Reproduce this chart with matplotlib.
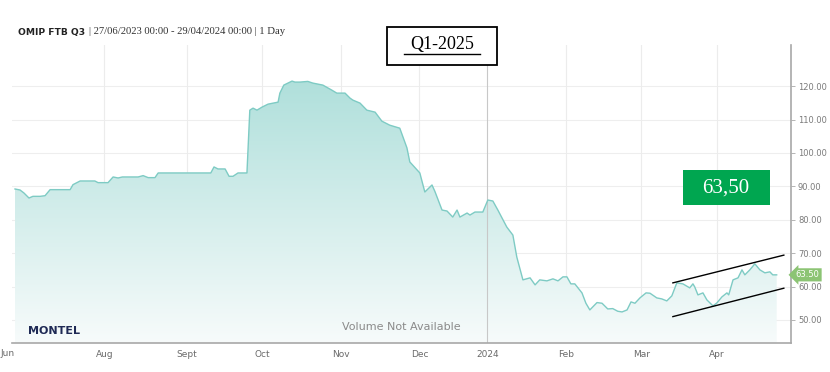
import numpy as np
import matplotlib
matplotlib.use("Agg")
import matplotlib.pyplot as plt
from matplotlib.colors import LinearSegmentedColormap
from matplotlib.patches import Rectangle
from matplotlib.lines import Line2D
import matplotlib.transforms as mtransforms

# trading-day index since 27/06/2023 and price (EUR/MWh)
day = [0, 1.4, 2.5, 3.9, 5, 7, 8.4, 9.8, 15.4, 16.2, 18.2, 22.3, 23.2, 26, 27.4,
       28.8, 30, 34.4, 35.8, 37.2, 39.1, 40, 54.7, 55.6, 56.7, 58.7, 59.8, 60.9,
       62.3, 64.8, 65.6, 66.5, 67.6, 69, 70.7, 73.5, 74, 75.1, 77.4, 78.2, 79.6,
       81.8, 83.2, 86, 88.5, 89.9, 92.2, 93.6, 94.4, 96.4, 98.3, 100.6, 102.5,
       104.7, 107.5, 109.5, 110.3, 113.1, 114.5, 116.5, 117.3, 119.3, 120.7,
       122.3, 123.5, 124.3, 126.3, 127.1, 128.5, 130.7, 132.1, 133.5, 134.9,
       137.4, 139.1, 140.2, 141.9, 143.9, 145.3, 146.6, 148.6, 150.3, 151.7,
       153.1, 154.2, 155.3, 156.4, 158.4, 159.5, 160.6, 162.6, 164.0, 165.6,
       167.0, 168.4, 169.6, 171.0, 172.1, 173.2, 174.6, 176.3, 177.4, 179.3,
       180.7, 182.1, 183.5, 184.9, 186.6, 188.5, 189.4, 189.9, 190.8, 192.2,
       193.3, 195.0, 196.1, 197.5, 198.9, 199.4, 200.6, 202.0, 203.1, 203.9,
       205.3, 206.7, 208.1, 209.5, 210.9, 211.7, 212.8]
price = [89.2, 88.9, 88.0, 86.5, 87.0, 87.0, 87.2, 89.0, 89.0, 90.5, 91.6, 91.6,
         91.1, 91.1, 92.8, 92.5, 92.8, 92.8, 93.2, 92.6, 92.6, 94.0, 94.0, 95.8,
         95.2, 95.2, 93.0, 93.0, 94.0, 94.0, 112.8, 113.4, 112.8, 113.7, 114.6,
         115.2, 117.9, 120.3, 121.5, 121.2, 121.2, 121.4, 120.9, 120.3, 118.8,
         117.9, 117.9, 116.4, 115.8, 114.9, 112.8, 112.2, 109.5, 108.3, 107.4,
         101.5, 97.3, 94.0, 88.3, 90.4, 88.5, 82.9, 82.6, 80.8, 82.9, 80.8, 82.0,
         81.4, 82.3, 82.3, 85.9, 85.6, 82.9, 77.8, 75.4, 68.8, 62.0, 62.6, 60.5,
         62.0, 61.7, 62.3, 61.7, 62.9, 62.9, 60.8, 60.8, 58.1, 55.0, 53.0, 55.2,
         55.0, 53.3, 53.4, 52.6, 52.4, 53.0, 55.4, 55.0, 56.6, 58.1, 58.0, 56.6,
         56.3, 55.7, 57.2, 61.1, 60.8, 59.6, 60.8, 59.9, 57.5, 58.1, 56.0, 54.2,
         55.1, 56.9, 58.1, 57.5, 62.0, 62.6, 65.0, 63.5, 65.0, 66.8, 65.0, 64.1,
         64.4, 63.5, 63.5]

# hand-drawn channel
trend_day = [183.8, 214.8]
trend_upper = [61.1, 69.4]
trend_lower = [51.0, 59.5]

start = "2023-06-27"
holidays = ["2023-12-25", "2023-12-26", "2024-01-01"]
month_starts = ["2023-08-01", "2023-09-01", "2023-10-02", "2023-11-01", "2023-12-01",
                "2024-01-02", "2024-02-01", "2024-03-01", "2024-04-01"]
month_labels = ["Aug", "Sept", "Oct", "Nov", "Dec", "2024", "Feb", "Mar", "Apr"]
yticks = [50, 60, 70, 80, 90, 100, 110, 120]
last_price = 63.50

month_pos = np.busday_count(start, month_starts, holidays=holidays)

W, H = 830, 372
fig = plt.figure(figsize=(W / 100, H / 100), dpi=100)
ax = fig.add_axes([12 / W, 1 - 343 / H, (791 - 12) / W, (343 - 45) / H])
ax.set_xlim(-0.84, 216.8)
ax.set_ylim(43.1, 132.3)

# gradient area
poly = ax.fill_between(day, price, 0, color="none", lw=0)
cmap = LinearSegmentedColormap.from_list("g", ["#f7fbfb", "#a6dcd7"])
grad = np.linspace(0, 1, 256).reshape(-1, 1)
im = ax.imshow(grad, cmap=cmap, aspect="auto", origin="lower",
               extent=[-0.84, 216.8, 43.1, 132.3], zorder=1)
im.set_clip_path(poly.get_paths()[0], transform=ax.transData)
ax.plot(day, price, color="#7ecbc4", lw=1.0, zorder=3)

# channel lines
ax.plot(trend_day, trend_upper, color="black", lw=1.0, zorder=4)
ax.plot(trend_day, trend_lower, color="black", lw=1.0, zorder=4)

# grid
for y in yticks:
    ax.axhline(y, color="#eeeeee", lw=0.8, zorder=0)
for i, p in enumerate(month_pos):
    c = "#c8c8c8" if month_labels[i] == "2024" else "#ececec"
    ax.axvline(p, color=c, lw=0.8, zorder=2 if month_labels[i] == "2024" else 0)

for s in ["top", "left"]:
    ax.spines[s].set_visible(False)
ax.spines["bottom"].set_color("#a8a8a8")
ax.spines["right"].set_color("#a8a8a8")
ax.spines["bottom"].set_linewidth(1.2)
ax.spines["right"].set_linewidth(1.2)

ax.yaxis.tick_right()
ax.set_yticks(yticks)
ax.set_yticklabels([f"{v:.2f}" for v in yticks])
ax.tick_params(axis="y", length=3, width=0.6, color="#a8a8a8", labelsize=6,
               labelcolor="#7a7a7a", pad=2)
ax.set_xticks(month_pos)
ax.set_xticklabels(month_labels)
ax.tick_params(axis="x", length=0, labelsize=6.5, labelcolor="#6a6a6a", pad=5)
for t in ax.get_xticklabels() + ax.get_yticklabels():
    t.set_fontfamily("Liberation Sans Narrow")

# first label at the left edge
fig.text(8 / W, 1 - 353 / H, "Jun", ha="center", va="center", fontsize=6.5,
         color="#6a6a6a", family="Liberation Sans Narrow")

# last price tag
ax.text(1.0 + 5 / W, last_price, f"{last_price:.2f}",
        transform=mtransforms.blended_transform_factory(ax.transAxes, ax.transData),
        ha="left", va="center", fontsize=6, color="white", family="Liberation Sans Narrow",
        bbox=dict(boxstyle="larrow,pad=0.25", fc="#8cc474", ec="none"), clip_on=False, zorder=6)

# watermark texts
ax.text(0.02, 0.025, "MONTEL", transform=ax.transAxes, fontsize=8, fontweight="bold",
        color="#1f2a55", ha="left", va="bottom")
ax.text(0.5, 0.055, "Volume Not Available", transform=ax.transAxes, fontsize=8,
        color="#8a8a8a", ha="center", va="center")

# title
fig.text(18 / W, 1 - 32 / H, "OMIP FTB Q3", fontsize=6.6, fontweight="bold",
         color="#222222", ha="left", va="center")
fig.text(89 / W, 1 - 32 / H, "| 27/06/2023 00:00 - 29/04/2024 00:00 | 1 Day",
         fontsize=7.7, color="#333333", ha="left", va="center", family="Liberation Serif")

# Q1-2025 box
fig.add_artist(Rectangle((387 / W, 1 - 65 / H), 110 / W, 38 / H, transform=fig.transFigure,
                         fc="white", ec="black", lw=1.3, zorder=5))
fig.text(442 / W, 1 - 45 / H, "Q1-2025", fontsize=13, color="black", ha="center",
         va="center", family="Liberation Serif", zorder=6)
fig.add_artist(Line2D([404 / W, 480 / W], [1 - 53.5 / H, 1 - 53.5 / H], transform=fig.transFigure,
                      color="black", lw=1.0, zorder=6))

# green value box
fig.add_artist(Rectangle((683 / W, 1 - 205 / H), 87 / W, 35 / H, transform=fig.transFigure,
                         fc="#00a650", ec="none", zorder=5))
fig.text(726 / W, 1 - 188 / H, "63,50", fontsize=15, color="white", ha="center",
         va="center", family="Liberation Serif", zorder=6)

fig.savefig("out.png", dpi=100)
